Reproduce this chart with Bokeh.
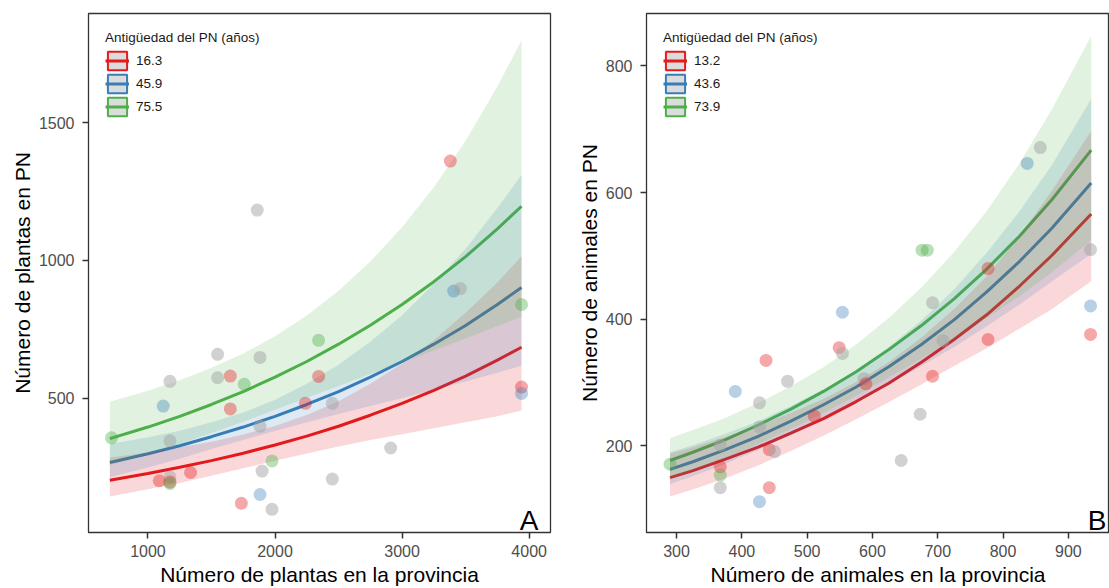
from bokeh.plotting import figure
from bokeh.models import ColumnDataSource, Legend, LegendItem, Label, FixedTicker, Range1d
from bokeh.layouts import row
from bokeh.embed import file_html
from bokeh.resources import INLINE

FONT = "Liberation Sans"
RED, BLUE, GREEN = "#E41A1C", "#377EB8", "#4DAF4A"
PT_COLORS = {"r": (RED, 0.38), "b": (BLUE, 0.36), "g": (GREEN, 0.40), "k": ("#A3A3A3", 0.50)}

# ---------------- Panel A: plants ----------------
a_x_ticks = [1000, 2000, 3000, 4000]
a_y_ticks = [500, 1000, 1500]
a_legend_labels = ["16.3", "45.9", "75.5"]
a_curve_x = [700, 1000, 1250, 1500, 1750, 2000, 2250, 2500, 2750, 3000, 3250, 3500, 3750, 3940]
a_fit_1 = [202, 226, 249, 273, 300, 330, 362, 398, 438, 481, 528, 580, 638, 685]
a_lo_1 = [143, 169, 192, 218, 245, 273, 299, 324, 348, 369, 391, 412, 434, 455]
a_hi_1 = [284, 303, 322, 342, 368, 399, 439, 489, 552, 626, 710, 810, 920, 1015]
a_fit_2 = [266, 298, 327, 360, 395, 434, 477, 524, 576, 633, 696, 764, 840, 902]
a_lo_2 = [213, 248, 280, 315, 348, 381, 412, 442, 471, 500, 530, 560, 592, 618]
a_hi_2 = [333, 358, 382, 412, 448, 494, 552, 621, 705, 801, 915, 1043, 1191, 1310]
a_fit_3 = [353, 395, 434, 477, 524, 576, 633, 696, 765, 840, 923, 1014, 1115, 1197]
a_lo_3 = [256, 296, 333, 373, 414, 458, 501, 544, 588, 630, 673, 717, 762, 795]
a_hi_3 = [487, 527, 565, 610, 662, 725, 800, 890, 996, 1121, 1266, 1435, 1632, 1800]
a_pts_x = [713, 1120, 1173, 1173, 1089, 1173, 1173, 1173, 1335, 1548, 1548, 1648, 1648, 1758,
           1882, 1882, 1976, 1898, 1882, 1735, 1976, 1860, 2343, 2343, 2239, 2451, 2910, 2451,
           3380, 3406, 3459, 3940, 3940, 3940]
a_pts_y = [356, 471, 561, 345, 200, 214, 195, 190, 230, 659, 574, 580, 461, 550,
           648, 398, 272, 235, 150, 118, 96, 1183, 710, 579, 481, 481, 319, 206,
           1361, 889, 898, 840, 540, 517]
a_pts_g = ["g", "b", "k", "k", "r", "k", "r", "g", "r", "k", "k", "r", "r", "g",
           "k", "k", "g", "k", "b", "r", "k", "k", "g", "r", "r", "k", "k", "k",
           "r", "b", "k", "g", "r", "b"]

# ---------------- Panel B: animals ----------------
b_x_ticks = [300, 400, 500, 600, 700, 800, 900]
b_y_ticks = [200, 400, 600, 800]
b_legend_labels = ["13.2", "43.6", "73.9"]
b_curve_x = [290, 325, 375, 425, 475, 525, 575, 625, 675, 725, 775, 825, 875, 935]
b_fit_1 = [150, 161, 179, 198, 220, 243, 270, 299, 332, 368, 407, 452, 501, 566]
b_lo_1 = [120, 131, 149, 169, 192, 216, 242, 269, 297, 326, 354, 385, 416, 460]
b_hi_1 = [188, 198, 214, 232, 252, 274, 301, 332, 371, 416, 468, 531, 603, 697]
b_fit_2 = [163, 175, 194, 215, 239, 265, 293, 325, 360, 399, 443, 491, 544, 615]
b_lo_2 = [140, 152, 172, 194, 217, 243, 269, 297, 326, 356, 389, 423, 460, 503]
b_hi_2 = [190, 201, 219, 239, 263, 289, 319, 356, 398, 447, 505, 570, 644, 748]
b_fit_3 = [177, 190, 210, 233, 258, 286, 317, 352, 390, 432, 479, 531, 589, 667]
b_lo_3 = [148, 161, 180, 203, 227, 252, 279, 308, 338, 368, 402, 436, 474, 525]
b_hi_3 = [212, 225, 244, 268, 294, 324, 360, 402, 450, 506, 571, 646, 732, 847]
b_pts_x = [290, 390, 437, 470, 427, 427, 367, 367, 367, 367, 427, 442, 442, 450, 511, 554, 549,
           554, 587, 590, 777, 692, 708, 777, 692, 673, 644, 934, 934, 676, 684, 837, 857, 934]
b_pts_y = [171, 286, 335, 302, 268, 230, 201, 167, 154, 134, 112, 134, 194, 191, 247, 411, 355,
           346, 306, 298, 480, 426, 366, 368, 310, 250, 177, 421, 376, 509, 509, 646, 671, 510]
b_pts_g = ["g", "b", "r", "k", "k", "k", "k", "r", "g", "k", "b", "r", "r", "k", "r", "b", "r",
           "k", "k", "r", "r", "k", "k", "r", "r", "k", "k", "b", "r", "g", "g", "b", "k", "k"]


def make_panel(xr, yr, xticks, yticks, xlabel, ylabel, cx, fits, lows, highs, labels,
               px, py, pg, letter, width, mbl, mbr, letter_dx):
    p = figure(width=width, height=588, x_range=Range1d(*xr), y_range=Range1d(*yr),
               output_backend="svg", toolbar_location=None,
               min_border_left=mbl, min_border_right=mbr, min_border_top=13, min_border_bottom=56)
    p.grid.visible = False
    p.background_fill_color = "white"
    p.border_fill_color = "white"
    p.outline_line_color = "#333333"
    p.outline_line_width = 1.3

    cols = [RED, BLUE, GREEN]
    lines = []
    for fit, col in zip(fits, cols):
        lines.append(p.line(cx, fit, line_color=col, line_width=3))
    for lo, hi, col in zip(lows, highs, cols):
        p.varea(x=cx, y1=lo, y2=hi, fill_color=col, fill_alpha=0.17)

    src = ColumnDataSource(dict(x=px, y=py,
                                c=[PT_COLORS[g][0] for g in pg],
                                a=[PT_COLORS[g][1] for g in pg]))
    p.scatter("x", "y", source=src, size=13, fill_color="c", fill_alpha="a", line_color=None)

    items = []
    nan = float("nan")
    for lab, col, ln in zip(labels, cols, lines):
        q = p.quad(left=[nan], right=[nan], top=[nan], bottom=[nan],
                   fill_color="#DCDCDC", line_color=col, line_width=2)
        items.append(LegendItem(label=lab, renderers=[q, ln]))
    leg = Legend(items=items, title="Antigüedad del PN (años)", location="top_left",
                 margin=17, padding=0, spacing=0, glyph_width=24, glyph_height=23,
                 label_standoff=7, title_standoff=4,
                 border_line_color=None, background_fill_alpha=0,
                 label_text_font=FONT, label_text_font_size="13.5px", label_text_color="#1A1A1A",
                 title_text_font=FONT, title_text_font_size="13.5px", title_text_font_style="normal",
                 title_text_color="#1A1A1A")
    p.add_layout(leg)

    for ax in (p.xaxis[0], p.yaxis[0]):
        ax.axis_line_color = None
        ax.major_tick_line_color = "#333333"
        ax.major_tick_line_width = 1.5
        ax.major_tick_out = 6
        ax.major_tick_in = 0
        ax.minor_tick_line_color = None
        ax.major_label_text_font = FONT
        ax.major_label_text_font_size = "16px"
        ax.major_label_text_color = "#4D4D4D"
        ax.axis_label_text_font = FONT
        ax.axis_label_text_font_size = "21px"
        ax.axis_label_text_font_style = "normal"
        ax.axis_label_text_color = "black"
    p.xaxis[0].ticker = FixedTicker(ticks=xticks)
    p.yaxis[0].ticker = FixedTicker(ticks=yticks)
    p.xaxis[0].axis_label = xlabel
    p.yaxis[0].axis_label = ylabel
    p.xaxis[0].major_label_standoff = 6
    p.xaxis[0].axis_label_standoff = 3
    p.yaxis[0].major_label_standoff = 8
    p.yaxis[0].axis_label_standoff = 2

    p.add_layout(Label(x=xr[1], y=yr[0], x_offset=letter_dx, y_offset=12, text=letter,
                       text_align="right", text_baseline="alphabetic",
                       text_font=FONT, text_font_size="28px", text_color="black"))
    return p


pA = make_panel((532, 4168), (12, 1897), a_x_ticks, a_y_ticks,
                "Número de plantas en la provincia", "Número de plantas en PN",
                a_curve_x, [a_fit_1, a_fit_2, a_fit_3], [a_lo_1, a_lo_2, a_lo_3],
                [a_hi_1, a_hi_2, a_hi_3], a_legend_labels,
                a_pts_x, a_pts_y, a_pts_g, "A", 558, 88, 8, -12)

pB = make_panel((254, 963), (63.3, 882.6), b_x_ticks, b_y_ticks,
                "Número de animales en la provincia", "Número de animales en PN",
                b_curve_x, [b_fit_1, b_fit_2, b_fit_3], [b_lo_1, b_lo_2, b_lo_3],
                [b_hi_1, b_hi_2, b_hi_3], b_legend_labels,
                b_pts_x, b_pts_y, b_pts_g, "B", 551, 88, 0, -3)

layout = row(pA, pB)
open("out.html", "w").write(file_html(layout, INLINE))
